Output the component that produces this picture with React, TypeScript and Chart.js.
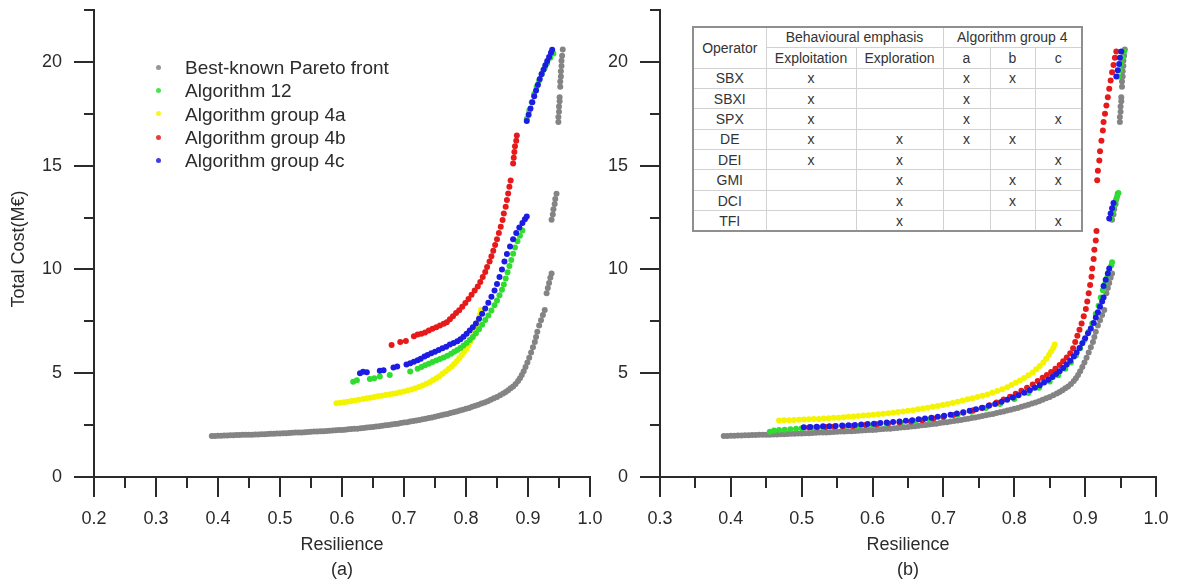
import React, { useEffect, useRef } from 'react';
import { Chart, registerables } from 'chart.js';

Chart.register(...registerables);

type Pt = [number, number];

const FONT = '"Liberation Sans", Arial, Helvetica, sans-serif';
const INK = '#2b2b2b';

const SERIES_LABELS = [
  'Best-known Pareto front',
  'Algorithm 12',
  'Algorithm group 4a',
  'Algorithm group 4b',
  'Algorithm group 4c',
];
const SERIES_COLORS = ['#848484', '#2fdc2f', '#f4f400', '#e61a1a', '#1c1ce4'];
// lower number = drawn later (on top)
const SERIES_ORDER = [5, 3, 4, 2, 1];

// Best-known Pareto front (Resilience, Total cost in M€), shared by both panels
const PARETO_FRONT: Pt[] = [
  [0.390, 1.98], [0.395, 1.98], [0.400, 1.99], [0.405, 1.99], [0.410, 2.00], [0.415, 2.00],
  [0.420, 2.01], [0.425, 2.01], [0.430, 2.02], [0.435, 2.02], [0.440, 2.03], [0.445, 2.03],
  [0.450, 2.04], [0.455, 2.04], [0.460, 2.05], [0.465, 2.05], [0.470, 2.06], [0.475, 2.06],
  [0.480, 2.07], [0.485, 2.08], [0.490, 2.08], [0.495, 2.09], [0.500, 2.10], [0.505, 2.11],
  [0.510, 2.11], [0.515, 2.12], [0.520, 2.13], [0.525, 2.14], [0.530, 2.14], [0.535, 2.15],
  [0.540, 2.16], [0.545, 2.17], [0.550, 2.18], [0.555, 2.19], [0.560, 2.19], [0.565, 2.20],
  [0.570, 2.21], [0.575, 2.22], [0.580, 2.23], [0.585, 2.24], [0.590, 2.25], [0.595, 2.26],
  [0.600, 2.27], [0.605, 2.28], [0.610, 2.30], [0.615, 2.31], [0.620, 2.32], [0.625, 2.33],
  [0.630, 2.35], [0.635, 2.36], [0.640, 2.38], [0.645, 2.40], [0.650, 2.41], [0.655, 2.43],
  [0.660, 2.45], [0.665, 2.47], [0.670, 2.49], [0.675, 2.51], [0.680, 2.53], [0.685, 2.55],
  [0.690, 2.57], [0.695, 2.60], [0.700, 2.62], [0.705, 2.64], [0.710, 2.67], [0.715, 2.70],
  [0.720, 2.72], [0.725, 2.75], [0.730, 2.78], [0.735, 2.81], [0.740, 2.84], [0.745, 2.87],
  [0.750, 2.90], [0.755, 2.94], [0.760, 2.97], [0.765, 3.01], [0.770, 3.04], [0.775, 3.08],
  [0.780, 3.12], [0.785, 3.16], [0.790, 3.20], [0.795, 3.24], [0.800, 3.29], [0.805, 3.33],
  [0.810, 3.38], [0.815, 3.43], [0.820, 3.48], [0.825, 3.54], [0.830, 3.59], [0.835, 3.65],
  [0.840, 3.72], [0.845, 3.79], [0.850, 3.86], [0.855, 3.94], [0.860, 4.02], [0.864, 4.10],
  [0.868, 4.18], [0.872, 4.27], [0.876, 4.36], [0.880, 4.48], [0.884, 4.62], [0.887, 4.76],
  [0.890, 4.92], [0.893, 5.10], [0.896, 5.30], [0.899, 5.52], [0.902, 5.75], [0.905, 6.00],
  [0.908, 6.25], [0.911, 6.50], [0.913, 6.75], [0.915, 7.00], [0.918, 7.30], [0.921, 7.55],
  [0.924, 7.80], [0.927, 8.05],
  [0.930, 8.85], [0.932, 9.10], [0.934, 9.35], [0.936, 9.60], [0.938, 9.80],
  [0.938, 12.40], [0.940, 12.65], [0.941, 12.90], [0.943, 13.15], [0.944, 13.40], [0.946, 13.65],
  [0.949, 17.10], [0.949, 17.35], [0.950, 17.60], [0.950, 17.85], [0.951, 18.10], [0.951, 18.30],
  [0.952, 18.80], [0.952, 19.05], [0.953, 19.30], [0.953, 19.55], [0.954, 19.80], [0.954, 20.05],
  [0.955, 20.30], [0.956, 20.60],
];

// Panel (a)
const A_ALG12: Pt[] = [
  [0.618, 4.59], [0.624, 4.66], [0.645, 4.72], [0.652, 4.76], [0.661, 4.84], [0.677, 4.92],
  [0.710, 5.08], [0.722, 5.22], [0.728, 5.30], [0.734, 5.38], [0.740, 5.46], [0.746, 5.54],
  [0.752, 5.61], [0.758, 5.69], [0.764, 5.76], [0.770, 5.84], [0.776, 5.94], [0.781, 6.03],
  [0.786, 6.12], [0.791, 6.22], [0.796, 6.33], [0.801, 6.46], [0.806, 6.60], [0.811, 6.75],
  [0.816, 6.92], [0.821, 7.12], [0.826, 7.34], [0.831, 7.56], [0.836, 7.78], [0.841, 8.02],
  [0.846, 8.27], [0.850, 8.50], [0.854, 8.76], [0.858, 9.02], [0.861, 9.28], [0.864, 9.56],
  [0.867, 9.86], [0.870, 10.16], [0.873, 10.46], [0.876, 10.76], [0.879, 11.06], [0.883, 11.36],
  [0.887, 11.62], [0.891, 11.88],
  [0.898, 17.25], [0.902, 17.65], [0.906, 18.05], [0.910, 18.45], [0.914, 18.80], [0.918, 19.10],
  [0.922, 19.40], [0.927, 19.70], [0.931, 19.95], [0.936, 20.20], [0.941, 20.40],
];

const A_GROUP4A: Pt[] = [
  [0.591, 3.55], [0.597, 3.58], [0.603, 3.60], [0.609, 3.63], [0.615, 3.66], [0.621, 3.69],
  [0.627, 3.72], [0.634, 3.76], [0.640, 3.79], [0.646, 3.82], [0.652, 3.86], [0.658, 3.89],
  [0.664, 3.92], [0.670, 3.95], [0.676, 3.98], [0.682, 4.01], [0.688, 4.04], [0.694, 4.08],
  [0.700, 4.12], [0.706, 4.17], [0.712, 4.22], [0.718, 4.28], [0.724, 4.34], [0.730, 4.41],
  [0.736, 4.49], [0.742, 4.58], [0.747, 4.67], [0.752, 4.76], [0.757, 4.86], [0.762, 4.97],
  [0.767, 5.08], [0.772, 5.20], [0.777, 5.32], [0.781, 5.45], [0.785, 5.58], [0.789, 5.72],
  [0.793, 5.87], [0.797, 6.02], [0.801, 6.18], [0.804, 6.35], [0.807, 6.52], [0.810, 6.70],
  [0.813, 6.88], [0.816, 7.08], [0.818, 7.30], [0.820, 7.55], [0.822, 7.80], [0.824, 8.05],
];

const A_GROUP4B: Pt[] = [
  [0.680, 6.36], [0.694, 6.50], [0.703, 6.55], [0.716, 6.78], [0.722, 6.86], [0.728, 6.90],
  [0.734, 6.96], [0.740, 7.06], [0.746, 7.14], [0.752, 7.22], [0.758, 7.30], [0.764, 7.38],
  [0.769, 7.46], [0.774, 7.60], [0.779, 7.75], [0.784, 7.90], [0.789, 8.04], [0.794, 8.20],
  [0.799, 8.38], [0.804, 8.58], [0.809, 8.78], [0.814, 8.98], [0.819, 9.18], [0.823, 9.40],
  [0.827, 9.64], [0.831, 9.88], [0.834, 10.12], [0.838, 10.38], [0.841, 10.64], [0.844, 10.90],
  [0.847, 11.18], [0.850, 11.46], [0.853, 11.76], [0.856, 12.06], [0.859, 12.38], [0.861, 12.70],
  [0.864, 13.02], [0.866, 13.34], [0.868, 13.66], [0.870, 13.98], [0.872, 14.28],
  [0.876, 15.10], [0.877, 15.38], [0.878, 15.66], [0.879, 15.94], [0.881, 16.20], [0.882, 16.45],
];

const A_GROUP4C: Pt[] = [
  [0.629, 5.00], [0.634, 5.07], [0.640, 5.05], [0.661, 5.12], [0.667, 5.14], [0.683, 5.28],
  [0.689, 5.32], [0.704, 5.42], [0.710, 5.48], [0.716, 5.55], [0.722, 5.62], [0.727, 5.70],
  [0.733, 5.80], [0.738, 5.88], [0.744, 5.96], [0.750, 6.04], [0.756, 6.12], [0.762, 6.20],
  [0.768, 6.28], [0.774, 6.38], [0.780, 6.46], [0.786, 6.54], [0.791, 6.64], [0.796, 6.76],
  [0.801, 6.90], [0.806, 7.06], [0.811, 7.22], [0.816, 7.40], [0.821, 7.62], [0.826, 7.86],
  [0.831, 8.12], [0.836, 8.40], [0.841, 8.68], [0.846, 8.98], [0.850, 9.30], [0.854, 9.64],
  [0.858, 10.00], [0.862, 10.38], [0.866, 10.74], [0.871, 11.10], [0.876, 11.46], [0.881, 11.76],
  [0.886, 12.02], [0.891, 12.24], [0.895, 12.42], [0.898, 12.55],
  [0.898, 17.15], [0.901, 17.45], [0.904, 17.75], [0.907, 18.05], [0.910, 18.35], [0.913, 18.62],
  [0.916, 18.90], [0.919, 19.18], [0.922, 19.42], [0.925, 19.62], [0.928, 19.84], [0.931, 20.04],
  [0.934, 20.24], [0.937, 20.44], [0.939, 20.58],
];

// Panel (b)
const B_ALG12: Pt[] = [
  [0.455, 2.18], [0.461, 2.24], [0.468, 2.26], [0.476, 2.28], [0.484, 2.30], [0.492, 2.33],
  [0.500, 2.35], [0.515, 2.37], [0.530, 2.39], [0.545, 2.41], [0.560, 2.43], [0.580, 2.46],
  [0.600, 2.50], [0.620, 2.55], [0.640, 2.61], [0.660, 2.68], [0.680, 2.77], [0.700, 2.88],
  [0.720, 3.00], [0.740, 3.14], [0.760, 3.32], [0.780, 3.52], [0.800, 3.76], [0.820, 4.05],
  [0.835, 4.30], [0.850, 4.60], [0.862, 4.90], [0.872, 5.22], [0.880, 5.52], [0.887, 5.85],
  [0.893, 6.20], [0.899, 6.60], [0.905, 7.00], [0.910, 7.40], [0.915, 7.85], [0.919, 8.25],
  [0.922, 8.65], [0.925, 9.00], [0.928, 9.30], [0.931, 9.60], [0.934, 9.90], [0.937, 10.20],
  [0.938, 10.35],
  [0.936, 12.45], [0.939, 12.75], [0.941, 13.05], [0.943, 13.30], [0.945, 13.50], [0.947, 13.68],
  [0.947, 19.30], [0.949, 19.60], [0.951, 19.90], [0.953, 20.20], [0.955, 20.50],
];

const B_GROUP4A: Pt[] = [
  [0.468, 2.72], [0.475, 2.73], [0.482, 2.74], [0.489, 2.75], [0.496, 2.76], [0.503, 2.77],
  [0.510, 2.78], [0.517, 2.79], [0.524, 2.80], [0.531, 2.82], [0.538, 2.83], [0.545, 2.85],
  [0.552, 2.86], [0.559, 2.88], [0.566, 2.90], [0.573, 2.92], [0.580, 2.94], [0.587, 2.96],
  [0.594, 2.98], [0.601, 3.00], [0.608, 3.02], [0.615, 3.05], [0.622, 3.07], [0.629, 3.10],
  [0.636, 3.13], [0.643, 3.16], [0.650, 3.19], [0.657, 3.22], [0.664, 3.26], [0.671, 3.30],
  [0.678, 3.34], [0.685, 3.38], [0.692, 3.42], [0.699, 3.47], [0.706, 3.52], [0.713, 3.57],
  [0.720, 3.62], [0.727, 3.68], [0.734, 3.74], [0.741, 3.80], [0.748, 3.86], [0.755, 3.92],
  [0.762, 3.98], [0.769, 4.06], [0.776, 4.14], [0.783, 4.23], [0.790, 4.33], [0.796, 4.43],
  [0.802, 4.54], [0.808, 4.65], [0.814, 4.77], [0.820, 4.90], [0.826, 5.04], [0.831, 5.19],
  [0.836, 5.35], [0.841, 5.52], [0.845, 5.70], [0.849, 5.88], [0.852, 6.05], [0.855, 6.22],
  [0.857, 6.38],
];

const B_GROUP4B: Pt[] = [
  [0.510, 2.38], [0.522, 2.40], [0.534, 2.41], [0.546, 2.43], [0.558, 2.44], [0.572, 2.46],
  [0.590, 2.50], [0.606, 2.54], [0.622, 2.58], [0.638, 2.63], [0.654, 2.68], [0.670, 2.74],
  [0.686, 2.82], [0.700, 2.90], [0.714, 2.99], [0.728, 3.09], [0.742, 3.21], [0.754, 3.33],
  [0.765, 3.46], [0.775, 3.59], [0.785, 3.73], [0.794, 3.87], [0.802, 4.01], [0.810, 4.15],
  [0.818, 4.30], [0.826, 4.46], [0.833, 4.62], [0.840, 4.78], [0.846, 4.92], [0.852, 5.06],
  [0.858, 5.22], [0.864, 5.40], [0.869, 5.58], [0.874, 5.76], [0.879, 5.96], [0.883, 6.20],
  [0.886, 6.50], [0.889, 6.80], [0.892, 7.10], [0.895, 7.40], [0.898, 7.75], [0.901, 8.10],
  [0.903, 8.45], [0.905, 8.85], [0.907, 9.25], [0.909, 9.65], [0.910, 10.05], [0.912, 10.50],
  [0.913, 10.95], [0.915, 11.40], [0.916, 11.85],
  [0.917, 14.30], [0.918, 14.75], [0.920, 15.25], [0.921, 15.70], [0.923, 16.20], [0.925, 16.70],
  [0.926, 17.10], [0.928, 17.50], [0.930, 17.90], [0.932, 18.30], [0.934, 18.70], [0.936, 19.10],
  [0.938, 19.50], [0.940, 19.85], [0.942, 20.20], [0.944, 20.50],
];

const B_GROUP4C: Pt[] = [
  [0.503, 2.40], [0.512, 2.41], [0.521, 2.42], [0.530, 2.44], [0.539, 2.45], [0.548, 2.46],
  [0.557, 2.48], [0.566, 2.49], [0.575, 2.51], [0.584, 2.53], [0.593, 2.55], [0.602, 2.57],
  [0.611, 2.60], [0.620, 2.62], [0.629, 2.65], [0.638, 2.68], [0.647, 2.71], [0.656, 2.74],
  [0.665, 2.78], [0.674, 2.82], [0.683, 2.86], [0.692, 2.90], [0.701, 2.95], [0.710, 3.00],
  [0.719, 3.06], [0.728, 3.12], [0.737, 3.19], [0.746, 3.26], [0.755, 3.34], [0.764, 3.43],
  [0.773, 3.52], [0.782, 3.62], [0.790, 3.72], [0.798, 3.83], [0.806, 3.94], [0.814, 4.06],
  [0.822, 4.18], [0.829, 4.30], [0.836, 4.42], [0.842, 4.55], [0.848, 4.68], [0.854, 4.82],
  [0.859, 4.96], [0.864, 5.10], [0.869, 5.25], [0.874, 5.42], [0.879, 5.60], [0.884, 5.80],
  [0.888, 6.00], [0.892, 6.22], [0.896, 6.45], [0.900, 6.68], [0.904, 6.92], [0.908, 7.16],
  [0.912, 7.42], [0.915, 7.68], [0.918, 7.94], [0.921, 8.20], [0.924, 8.45], [0.926, 8.65],
  [0.926, 9.20], [0.929, 9.50], [0.932, 9.80], [0.934, 10.05],
  [0.934, 12.45], [0.936, 12.70], [0.938, 12.95], [0.940, 13.20],
  [0.944, 19.30], [0.946, 19.60], [0.948, 19.90], [0.949, 20.20], [0.951, 20.50],
];

// Axis ticks
const Y_MAJOR = [0, 5, 10, 15, 20];
const Y_MINOR = [2.5, 7.5, 12.5, 17.5, 22.5];
const X_MAJOR_A = [0.2, 0.3, 0.4, 0.5, 0.6, 0.7, 0.8, 0.9, 1.0];
const X_MINOR_A = [0.25, 0.35, 0.45, 0.55, 0.65, 0.75, 0.85, 0.95];
const X_MAJOR_B = [0.3, 0.4, 0.5, 0.6, 0.7, 0.8, 0.9, 1.0];
const X_MINOR_B = [0.35, 0.45, 0.55, 0.65, 0.75, 0.85, 0.95];

// Operator table
const TABLE_OPERATORS = ['SBX', 'SBXI', 'SPX', 'DE', 'DEI', 'GMI', 'DCI', 'TFI'];
const TABLE_SUBHEADS = ['Exploitation', 'Exploration', 'a', 'b', 'c'];
// columns: Exploitation, Exploration, group 4a, 4b, 4c
const TABLE_MARKS: number[][] = [
  [1, 0, 1, 1, 0],
  [1, 0, 1, 0, 0],
  [1, 0, 1, 0, 1],
  [1, 1, 1, 1, 0],
  [1, 1, 0, 0, 1],
  [0, 1, 0, 1, 1],
  [0, 1, 0, 1, 0],
  [0, 1, 0, 0, 1],
];

interface PanelProps {
  series: Pt[][];
  xMin: number;
  xMax: number;
  xMajor: number[];
  xMinor: number[];
  left: number;
  width: number;
  plotLeft: number;
  plotRight: number;
  yTitle?: string;
  caption: string;
}

const HEIGHT = 582;
const PLOT_TOP = 10;
const PLOT_BOTTOM = 477;

function Panel(props: PanelProps) {
  const ref = useRef<HTMLCanvasElement | null>(null);

  useEffect(() => {
    const canvas = ref.current;
    if (!canvas) return;
    const { series, xMin, xMax, xMajor, xMinor, left, width, plotLeft, plotRight, yTitle, caption } = props;

    const frame = {
      id: 'axisFrame',
      afterDraw(chart: any) {
        const { ctx, chartArea: a } = chart;
        const xs = chart.scales.x;
        const ys = chart.scales.y;
        const seg = (x1: number, y1: number, x2: number, y2: number) => {
          ctx.beginPath();
          ctx.moveTo(x1, y1);
          ctx.lineTo(x2, y2);
          ctx.stroke();
        };
        ctx.save();
        ctx.strokeStyle = INK;
        ctx.lineWidth = 2;
        ctx.lineCap = 'square';
        const l = Math.round(a.left);
        const b = Math.round(a.bottom);
        seg(l, Math.round(ys.getPixelForValue(22.5)), l, b);
        seg(l, b, Math.round(xs.getPixelForValue(xMax)), b);
        ctx.lineCap = 'butt';
        xMajor.forEach((v) => {
          const px = Math.round(xs.getPixelForValue(v));
          seg(px, b, px, b + 20);
        });
        xMinor.forEach((v) => {
          const px = Math.round(xs.getPixelForValue(v));
          seg(px, b, px, b + 11);
        });
        Y_MAJOR.forEach((v) => {
          const py = Math.round(ys.getPixelForValue(v));
          seg(l - 20, py, l, py);
        });
        Y_MINOR.forEach((v) => {
          const py = Math.round(ys.getPixelForValue(v));
          seg(l - 10, py, l, py);
        });

        ctx.fillStyle = INK;
        ctx.font = `18px ${FONT}`;
        ctx.textBaseline = 'middle';
        ctx.textAlign = 'center';
        xMajor.forEach((v) => {
          ctx.fillText(v.toFixed(1), xs.getPixelForValue(v), b + 42);
        });
        ctx.textAlign = 'right';
        Y_MAJOR.forEach((v) => {
          ctx.fillText(String(v), l - 32, ys.getPixelForValue(v));
        });
        ctx.textAlign = 'center';
        const cx = (a.left + a.right) / 2;
        ctx.fillText('Resilience', cx, b + 68);
        ctx.fillText(caption, cx, b + 93);
        if (yTitle) {
          ctx.save();
          ctx.translate(l - 75, 249);
          ctx.rotate(-Math.PI / 2);
          ctx.fillText(yTitle, 0, 0);
          ctx.restore();
        }
        ctx.restore();
      },
    };

    const chart = new Chart(canvas, {
      type: 'scatter',
      data: {
        datasets: series.map((pts, i) => ({
          label: SERIES_LABELS[i],
          data: pts.map(([x, y]) => ({ x, y })),
          backgroundColor: SERIES_COLORS[i],
          borderColor: SERIES_COLORS[i],
          pointRadius: 3,
          pointBorderWidth: 0,
          order: SERIES_ORDER[i],
        })),
      },
      options: {
        animation: false,
        responsive: false,
        devicePixelRatio: 1,
        events: [],
        layout: {
          padding: { left: 0, top: PLOT_TOP, right: left + width - plotRight, bottom: 0 },
        },
        plugins: {
          legend: { display: false },
          tooltip: { enabled: false },
        },
        scales: {
          x: {
            type: 'linear',
            min: xMin,
            max: xMax,
            grid: { display: false, drawTicks: false },
            border: { display: false },
            ticks: { display: false },
            afterFit: (s: any) => {
              s.height = HEIGHT - PLOT_BOTTOM;
            },
          },
          y: {
            type: 'linear',
            min: 0,
            max: 22.5,
            grid: { display: false, drawTicks: false },
            border: { display: false },
            ticks: { display: false },
            afterFit: (s: any) => {
              s.width = plotLeft - left;
            },
          },
        },
      } as any,
      plugins: [frame],
    });

    return () => chart.destroy();
  }, []);

  return (
    <canvas
      ref={ref}
      width={props.width}
      height={HEIGHT}
      style={{ position: 'absolute', left: props.left, top: 0, width: props.width, height: HEIGHT }}
    />
  );
}

function Legend() {
  const rowsY = [67, 90, 113.5, 137, 160];
  return (
    <>
      {SERIES_LABELS.map((label, i) => (
        <React.Fragment key={label}>
          <div
            style={{
              position: 'absolute',
              left: 158 - 2.5,
              top: rowsY[i] - 2.5,
              width: 5,
              height: 5,
              borderRadius: '50%',
              background: SERIES_COLORS[i],
              opacity: 0.85,
            }}
          />
          <div
            style={{
              position: 'absolute',
              left: 185,
              top: rowsY[i],
              transform: 'translateY(-50%)',
              fontSize: 19,
              lineHeight: '19px',
              color: INK,
              whiteSpace: 'nowrap',
            }}
          >
            {label}
          </div>
        </React.Fragment>
      ))}
    </>
  );
}

function OperatorTable() {
  const colW = [73, 90, 87, 47, 45, 47];
  const inner = '1px solid #d2d2d2';
  const cell: React.CSSProperties = {
    border: inner,
    padding: 0,
    textAlign: 'center',
    verticalAlign: 'middle',
    whiteSpace: 'nowrap',
  };
  return (
    <table
      style={{
        position: 'absolute',
        left: 692,
        top: 26,
        width: 389,
        height: 204,
        borderCollapse: 'collapse',
        tableLayout: 'fixed',
        fontSize: 14,
        lineHeight: '16px',
        color: '#333',
        background: '#fff',
        border: '2px solid #8f8f8f',
      }}
    >
      <colgroup>
        {colW.map((w, i) => (
          <col key={i} style={{ width: w }} />
        ))}
      </colgroup>
      <tbody>
        <tr style={{ height: 20 }}>
          <td rowSpan={2} style={cell}>Operator</td>
          <td colSpan={2} style={cell}>Behavioural emphasis</td>
          <td colSpan={3} style={cell}>Algorithm group 4</td>
        </tr>
        <tr style={{ height: 21 }}>
          {TABLE_SUBHEADS.map((h) => (
            <td key={h} style={cell}>{h}</td>
          ))}
        </tr>
        {TABLE_OPERATORS.map((op, r) => (
          <tr key={op} style={{ height: 20.4 }}>
            <td style={cell}>{op}</td>
            {TABLE_MARKS[r].map((m, c) => (
              <td key={c} style={cell}>{m ? 'x' : ''}</td>
            ))}
          </tr>
        ))}
      </tbody>
    </table>
  );
}

export default function App() {
  return (
    <div
      style={{
        position: 'fixed',
        left: 0,
        top: 0,
        width: 1178,
        height: HEIGHT,
        overflow: 'hidden',
        background: '#fff',
        fontFamily: FONT,
      }}
    >
      <Panel
        series={[PARETO_FRONT, A_ALG12, A_GROUP4A, A_GROUP4B, A_GROUP4C]}
        xMin={0.2}
        xMax={1.0}
        xMajor={X_MAJOR_A}
        xMinor={X_MINOR_A}
        left={0}
        width={620}
        plotLeft={94}
        plotRight={590}
        yTitle="Total Cost(M€)"
        caption="(a)"
      />
      <Panel
        series={[PARETO_FRONT, B_ALG12, B_GROUP4A, B_GROUP4B, B_GROUP4C]}
        xMin={0.3}
        xMax={1.0}
        xMajor={X_MAJOR_B}
        xMinor={X_MINOR_B}
        left={590}
        width={588}
        plotLeft={660}
        plotRight={1156}
        caption="(b)"
      />
      <Legend />
      <OperatorTable />
    </div>
  );
}
